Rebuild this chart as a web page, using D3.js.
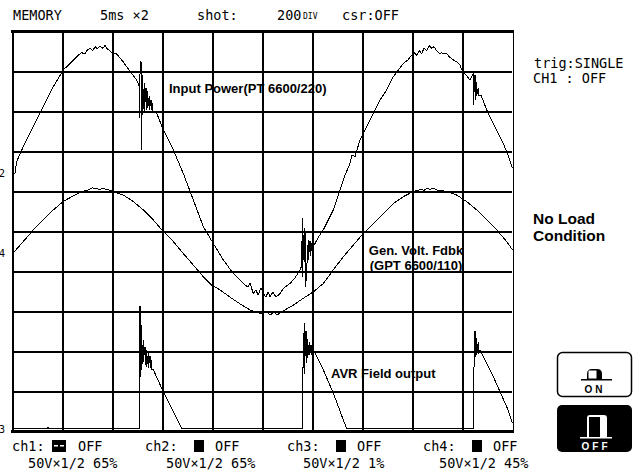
<!DOCTYPE html>
<html>
<head>
<meta charset="utf-8">
<script src="https://cdn.jsdelivr.net/npm/d3@7"></script>
<style>
  body { margin: 0; background: #fff; }
  svg { display: block; }
  .mono { font-family: "DejaVu Sans Mono", monospace; font-size: 13.5px; fill: #000; }
  .lbl { font-family: "Liberation Sans", Arial, sans-serif; font-weight: bold; font-size: 13px; fill: #000; }
</style>
</head>
<body>
<svg id="chart" width="633" height="472"></svg>
<script>
// time in ms (5 ms/div), level in % of screen height

var inputPower = [
  [0.07,64.5],[0.3,64.6],[0.47,67.5],[1.13,71.2],[2.13,76.2],[3.13,81.2],[4.13,86.2],[5.13,90.4],
  [5.97,92.4],[6.63,94.1],[6.97,94.7],[7.3,94.4],[7.53,95.4],[7.8,95.8],[8.07,95.2],[8.3,96.2],
  [8.53,95.7],[8.8,96.4],[9.07,95.8],[9.3,96.5],[9.53,95.6],[9.8,95.2],[10.07,94.4],[10.4,94.5],
  [10.63,93.9],[11.13,92.4],[11.8,90],[12.47,87.9],[12.7,86.5],
  [12.73,78.4],[12.73,87.1],[12.9,92.5],[12.9,70.4],[13.07,89.1],[13.07,79.1],[13.23,87.1],[13.23,80],
  [13.4,85.9],[13.4,80.4],[13.57,85],[13.57,80.8],[13.73,83.8],[13.73,80.4],[13.9,82.9],[13.9,80.4],
  [14.07,82.1],[14.07,79.9],[14.47,79.6],[15.13,75.4],[16.13,70.4],
  [17.13,64.5],[18.13,57.9],[19.13,51.2],[20.13,47],[21.13,42.9],[22.13,39.5],[23.13,37],[23.6,36.1],
  [23.8,37.1],[24.13,34.5],[24.4,35.4],[24.6,34.1],[24.9,35.9],[25.13,34.5],[25.4,33.6],[25.6,34.9],
  [25.8,33.7],[26.1,34.9],[26.4,33.6],[26.8,34.5],[27.2,35.9],[27.8,37],[28.3,38.4],[28.8,40.4],
  [28.97,41.4],[29.03,53.4],[29.03,38.6],[29.23,50.9],[29.23,42.4],[29.37,49.9],[29.37,36.1],[29.63,47.9],
  [29.63,42.9],[29.8,47.6],[29.8,43.9],[29.97,47.1],[29.97,45.1],[30.13,46.2],[30.6,48.4],[31.13,50.4],[32.13,55.4],
  [32.8,60.4],[33.3,64.1],[33.8,67],[34.0,69.1],[34.3,68.7],[34.8,72.9],[35.8,77.9],[36.8,82.9],
  [37.47,85.4],[38.13,88.7],[39.13,92],[39.6,92.9],[39.97,94.1],[40.2,94.7],[40.47,94.1],[40.73,95.2],
  [40.97,94.5],[41.2,95.8],[41.47,95.2],[41.73,96.4],[41.97,95.8],[42.2,96.2],[42.47,95.2],[42.73,94.5],
  [42.97,94.7],[43.2,94.4],[43.47,94.5],[43.73,93.7],[44.07,93],[44.47,92.4],[44.8,91.6],[44.97,90.4],
  [45.8,87.9],[46.13,89.6],[46.13,81.6],[46.3,89.1],[46.3,82.9],[46.47,87.4],[46.47,83.9],[46.63,85.9],
  [46.63,84.1],[46.9,84.1],[47.47,80.4],[48.13,77],[49.13,72],[49.6,69.1],[50.05,65.8]
];

var genVolt = [
  [0.07,44.5],[1.13,47.5],[2.13,50.4],[3.13,52.9],[4.13,55.4],[5.13,57.5],[5.97,58.7],[6.8,59.8],
  [7.63,60.4],[8.0,60.9],[8.47,60.8],[8.8,60.4],[9.1,60.9],[9.3,60.6],[9.8,60.3],[10.13,60],
  [11.13,59.1],[12.13,57.5],[13.13,55.4],[14.13,52.9],[15.13,50],[16.13,47.5],[17.13,44.5],[18.13,41.6],
  [19.13,38.7],[19.97,36.6],[20.8,35.4],[21.8,33.6],[22.8,31.9],[23.8,30.4],[24.4,29.9],[25.0,29.4],
  [25.4,30.1],[25.8,29.1],[26.2,29.9],[26.5,29.1],[26.8,29.6],[27.3,30.4],[28.13,31.6],[29.13,33.3],
  [30.13,34.9],[31.13,37],[32.13,40.4],[33.13,43.7],[34.13,46.6],[35.13,49.5],[36.13,52],[37.13,54.5],
  [38.13,57],[39.13,58.7],[40.13,60],[40.6,60.3],[40.9,60.6],[41.2,60.3],[41.5,60.8],[41.8,60.5],
  [42.1,60.8],[42.47,60.4],[43.47,60],[44.47,59.1],[45.47,57.5],[46.47,55.4],[47.47,52.9],[48.47,50.4],
  [49.47,47.5],[50.05,45.4]
];

var avrField = [
  [0.05,0.75],[3.5,0.75],[3.6,1.1],[3.7,0.75],[12.73,0.75],[12.73,3.9],
  [12.8,31.4],[12.8,13.7],[12.97,26.6],[12.97,15.4],[13.13,22.9],[13.13,17.5],[13.3,21.2],[13.3,16.6],
  [13.47,20.4],[13.47,16.2],[13.63,19.6],[13.63,15.9],[13.8,18.9],[13.8,15.9],[13.97,17.9],[13.97,15.6],
  [14.1,15.6],[15.05,10.4],[16.0,5.6],[16.9,1.2],[17.0,0.75],
  [29.03,0.75],[29.03,9.9],[29.23,27.0],[29.23,14.5],[29.4,25],[29.4,17.1],[29.57,23.1],[29.57,18.4],
  [29.73,22.4],[29.73,19.1],[29.9,21.6],[29.9,19.1],[30.07,20.6],[30.07,18.9],[30.13,20.4],
  [31.13,15.4],[32.13,9.6],[33.13,2.9],[33.47,0.75],
  [46.13,0.75],[46.13,9.6],[46.3,25],[46.3,18.7],[46.47,23.4],[46.47,19.1],[46.63,22.4],[46.63,19.4],
  [46.8,20.4],[47.0,19.4],[48.13,13.7],[49.47,6.2],[50.05,2.1]
];

var traceLabels = [
  { lines: ["Input Power(PT 6600/220)"], t: 15.7, v: 84.6, anchor: "start" },
  { lines: ["Gen. Volt. Fdbk", "(GPT 6600/110)"], t: 40.4, v: 44.2, anchor: "middle" },
  { lines: ["AVR Field output"], t: 31.9, v: 13.4, anchor: "start" }
];

// channel zero positions (%)
var channelPos = [
  { name: "2", pos: 65 }, { name: "4", pos: 45 }, { name: "3", pos: 1 }
];

var legendChannels = ["ch1:", "ch2:", "ch3:", "ch4:"];
var legendState = ["OFF", "OFF", "OFF", "OFF"];
var legendRange = ["50V×1/2 65%", "50V×1/2 65%", "50V×1/2 1%", "50V×1/2 45%"];

var svg = d3.select("#chart");
var plotLeft = 12, plotRight = 512, plotTop = 31.5, plotBottom = 431.5;

var x = d3.scaleLinear().domain([0, 50]).range([plotLeft, plotRight]);
var y = d3.scaleLinear().domain([0, 100]).range([plotBottom, plotTop]);

// grid
var grid = svg.append("g").attr("shape-rendering", "crispEdges");
grid.append("g")
  .attr("transform", "translate(0," + plotBottom + ")")
  .call(d3.axisBottom(x).tickValues(d3.range(0, 51, 5)).tickSize(-(plotBottom - plotTop)).tickFormat(""))
  .call(function(g) { g.select(".domain").remove(); });
grid.append("g")
  .attr("transform", "translate(" + plotLeft + ",0)")
  .call(d3.axisLeft(y).tickValues(d3.range(0, 101, 10)).tickSize(-(plotRight - plotLeft)).tickFormat(""))
  .call(function(g) { g.select(".domain").remove(); });
grid.selectAll("line").attr("stroke", "#000").attr("stroke-width", 2);

// heavier top and bottom frame, doubled right edge
grid.append("rect").attr("x", plotLeft - 1).attr("y", 30).attr("width", plotRight - plotLeft + 3).attr("height", 3).attr("fill", "#000");
grid.append("rect").attr("x", plotLeft - 1).attr("y", 430).attr("width", plotRight - plotLeft + 3).attr("height", 3).attr("fill", "#000");
grid.append("rect").attr("x", plotRight).attr("y", 33).attr("width", 1).attr("height", 397).attr("fill", "#fff");
grid.append("rect").attr("x", plotRight + 1).attr("y", 33).attr("width", 1).attr("height", 397).attr("fill", "#000");

// traces
var line = d3.line().x(function(d) { return x(d[0]); }).y(function(d) { return y(d[1]); });
svg.append("g").selectAll("path")
  .data([inputPower, genVolt, avrField])
  .join("path")
  .attr("d", line)
  .attr("fill", "none")
  .attr("stroke", "#000")
  .attr("stroke-width", 1)
  .attr("shape-rendering", "crispEdges");

// labels on traces
traceLabels.forEach(function(l) {
  var t = svg.append("text").attr("class", "lbl")
    .attr("x", x(l.t)).attr("y", y(l.v)).attr("text-anchor", l.anchor);
  l.lines.forEach(function(s, i) {
    t.append("tspan").attr("x", x(l.t)).attr("dy", i ? 15.5 : 0).text(s);
  });
});

// channel markers at left edge
svg.append("g").selectAll("text")
  .data(channelPos)
  .join("text")
  .attr("class", "mono")
  .style("font-size", "10px")
  .attr("x", -1)
  .attr("y", function(d) { return y(d.pos) + 5; })
  .text(function(d) { return d.name; });

// header
var header = [["MEMORY", 13], ["5ms ×2", 100], ["shot:", 197], ["200", 277], ["csr:OFF", 342]];
svg.append("g").selectAll("text").data(header).join("text")
  .attr("class", "mono").attr("x", function(d) { return d[1]; }).attr("y", 20)
  .text(function(d) { return d[0]; });
svg.append("text").attr("class", "mono").style("font-size", "8px")
  .attr("x", 303).attr("y", 19).text("DIV");

// right panel
svg.append("text").attr("class", "mono").attr("x", 534).attr("y", 68).text("trig:SINGLE");
svg.append("text").attr("class", "mono").attr("x", 533).attr("y", 83).text("CH1 : OFF");
svg.append("text").attr("class", "lbl").style("font-size", "15.5px").attr("x", 533).attr("y", 224).text("No Load");
svg.append("text").attr("class", "lbl").style("font-size", "15.5px").attr("x", 533).attr("y", 241).text("Condition");

// buttons
var onBtn = svg.append("g");
onBtn.append("rect").attr("x", 557.5).attr("y", 352.5).attr("width", 74).attr("height", 44).attr("rx", 5)
  .attr("fill", "#fff").attr("stroke", "#000").attr("stroke-width", 1.5);
onBtn.append("path").attr("d", "M587,379 L587,374 Q587,369 592,369 L597,369 Q602,369 602,374 L602,379 Z").attr("fill", "#000");
onBtn.append("rect").attr("x", 588.5).attr("y", 370.5).attr("width", 8).attr("height", 8).attr("fill", "#fff");
onBtn.append("rect").attr("x", 581).attr("y", 379).attr("width", 31).attr("height", 1.5).attr("fill", "#000");
onBtn.append("text").attr("class", "lbl").style("font-size", "10px").attr("x", 595).attr("y", 393)
  .attr("text-anchor", "middle").attr("letter-spacing", 3).text("ON");

var offBtn = svg.append("g");
offBtn.append("rect").attr("x", 557).attr("y", 405).attr("width", 75).attr("height", 47).attr("rx", 5).attr("fill", "#000");
offBtn.append("path").attr("d", "M587,437 L587,418 Q587,415 590,415 L604,415 Q607,415 607,418 L607,437 Z").attr("fill", "#fff");
offBtn.append("rect").attr("x", 589).attr("y", 417).attr("width", 11).attr("height", 20).attr("fill", "#000");
offBtn.append("rect").attr("x", 580).attr("y", 437).attr("width", 32).attr("height", 1.5).attr("fill", "#fff");
offBtn.append("text").attr("class", "lbl").style("font-size", "10px").style("fill", "#fff").attr("x", 596).attr("y", 450)
  .attr("text-anchor", "middle").attr("letter-spacing", 3).text("OFF");

// legend
var legendX = [12, 145, 287, 423];
var rangeX = [28, 166, 303, 439];
var legend = svg.append("g").selectAll("g").data(legendChannels).join("g")
  .attr("transform", function(d, i) { return "translate(" + legendX[i] + ",0)"; });
legend.append("text").attr("class", "mono").attr("y", 451).text(function(d) { return d; });
legend.append("rect").attr("x", function(d, i) { return i ? 49 : 40; }).attr("y", 440)
  .attr("width", function(d, i) { return i ? 10 : 14; }).attr("height", 12).attr("fill", "#000");
// white dashes in the ch1 swatch
legend.filter(function(d, i) { return i === 0; }).selectAll(".dash").data([42, 48]).join("rect")
  .attr("x", function(d) { return d; }).attr("y", 445).attr("width", 4).attr("height", 1.5).attr("fill", "#fff");
legend.append("text").attr("class", "mono").attr("x", function(d, i) { return i ? 70 : 66; }).attr("y", 451)
  .text(function(d, i) { return legendState[i]; });
legend.append("text").attr("class", "mono").attr("x", function(d, i) { return rangeX[i] - legendX[i]; }).attr("y", 468)
  .text(function(d, i) { return legendRange[i]; });
</script>
</body>
</html>
